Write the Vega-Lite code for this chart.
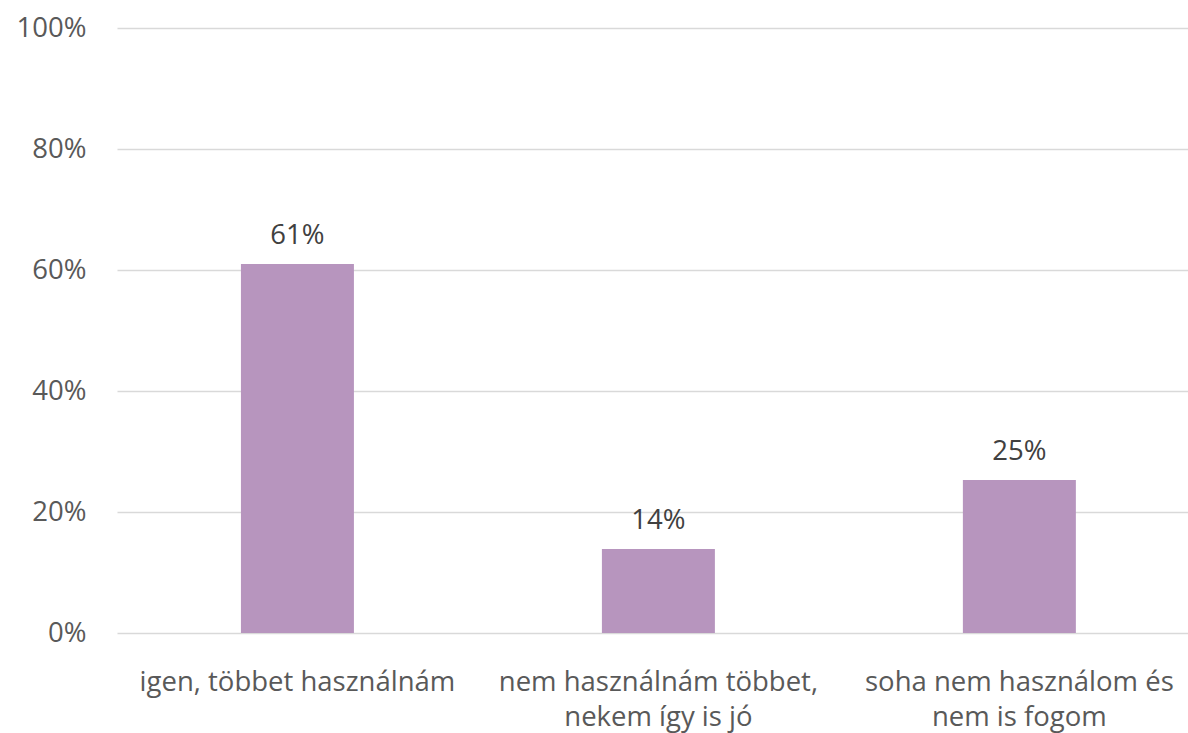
{
  "$schema": "https://vega.github.io/schema/vega-lite/v6.json",
  "width": 1071,
  "height": 605,
  "autosize": {"type": "none"},
  "padding": {"left": 117, "top": 28, "right": 0, "bottom": 100},
  "background": "white",
  "config": {
    "view": {"stroke": null},
    "font": "Open Sans",
    "axis": {"labelFont": "Open Sans", "labelColor": "#595959", "labelFontSize": 27.5}
  },
  "data": {
    "values": [
      {"cat": "igen, többet használnám", "value": 0.61, "label": "61%"},
      {"cat": "nem használnám többet,\nnekem így is jó", "value": 0.139, "label": "14%"},
      {"cat": "soha nem használom és\nnem is fogom", "value": 0.253, "label": "25%"}
    ]
  },
  "encoding": {
    "x": {
      "field": "cat",
      "type": "nominal",
      "sort": null,
      "scale": {"paddingInner": 0.687, "paddingOuter": 0.327, "align": 0.525},
      "axis": {
        "title": null,
        "labelAngle": 0,
        "domain": false,
        "ticks": false,
        "labelPadding": 35,
        "labelBaseline": "top",
        "labelLineHeight": 35,
        "labelExpr": "split(datum.label, '\\n')",
        "labelLimit": 0
      }
    },
    "y": {
      "field": "value",
      "type": "quantitative",
      "scale": {"domain": [0, 1]},
      "axis": {
        "title": null,
        "format": ".0%",
        "values": [0, 0.2, 0.4, 0.6, 0.8, 1],
        "domain": false,
        "ticks": false,
        "labelPadding": 31,
        "gridColor": "#d9d9d9",
        "gridWidth": 1.5
      }
    }
  },
  "layer": [
    {"mark": {"type": "bar", "color": "#B795BE"}},
    {
      "mark": {"type": "text", "baseline": "alphabetic", "dy": -20, "fontSize": 27.5, "color": "#404040", "font": "Open Sans"},
      "encoding": {"text": {"field": "label"}}
    }
  ]
}
